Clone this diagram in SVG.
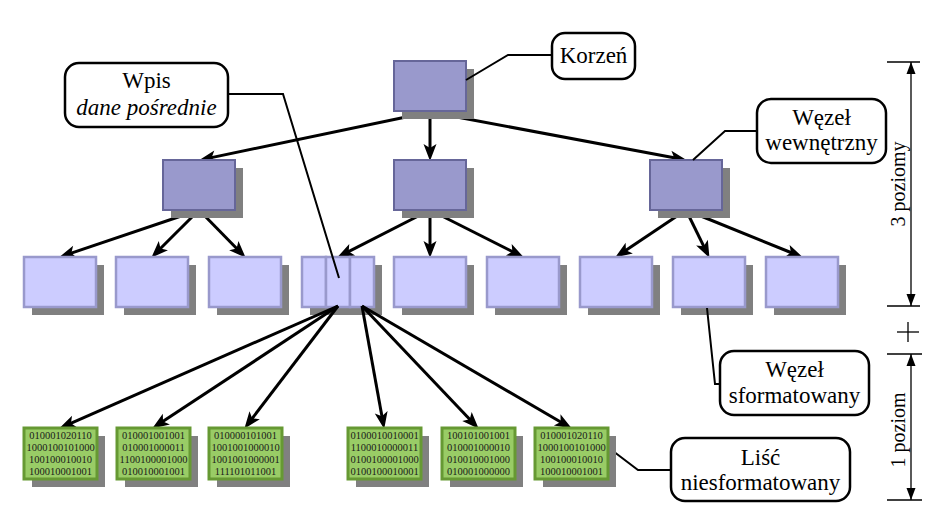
<svg xmlns="http://www.w3.org/2000/svg" width="940" height="517" viewBox="0 0 940 517" font-family="Liberation Serif, Times New Roman, serif">
<style>
.sh{fill:#808080}
.int{fill:#9999cc;stroke:#666699;stroke-width:2}
.lf{fill:#ccccff;stroke:#9999cc;stroke-width:2.5}
.gr{fill:#99cc66;stroke:#669933;stroke-width:3}
.bin{font-family:Liberation Serif, Times New Roman, serif;font-size:10.5px;fill:#1a1a1a;text-anchor:middle}
.co{fill:#fff;stroke:#000;stroke-width:2.5}
.lbl{font-family:Liberation Serif, Times New Roman, serif;font-size:23px;fill:#000;text-anchor:middle}
.arr{fill:none;stroke:#000;stroke-width:3;marker-end:url(#ah)}
.lead{fill:none;stroke:#000;stroke-width:2}
.dim{fill:none;stroke:#000;stroke-width:1.3}
.dl{font-family:Liberation Serif, Times New Roman, serif;font-size:20px;fill:#000;text-anchor:middle}
</style>
<defs>
<marker id="ah" markerUnits="userSpaceOnUse" viewBox="-10 -8 20 16" markerWidth="20" markerHeight="16" refX="0" refY="0" orient="auto">
<path d="M9,0 L-8,-6.5 L-4,0 L-8,6.5 Z" fill="#000"/>
</marker>
<marker id="dh" markerUnits="userSpaceOnUse" viewBox="-13 -5 14 10" markerWidth="14" markerHeight="10" refX="0" refY="0" orient="auto-start-reverse">
<path d="M0,0 L-12,-4.5 L-12,4.5 Z" fill="#000"/>
</marker>
</defs>

<g id="connectors">
<line class="arr" x1="430" y1="112" x2="207.8" y2="158.4"/>
<line class="arr" x1="430" y1="112" x2="430" y2="152"/>
<line class="arr" x1="430" y1="112" x2="678.1" y2="158.5"/>
<line class="arr" x1="199" y1="210" x2="67.6" y2="254.4"/>
<line class="arr" x1="199" y1="210" x2="157.7" y2="251.3"/>
<line class="arr" x1="199" y1="210" x2="239.4" y2="251.3"/>
<line class="arr" x1="430" y1="210" x2="345.1" y2="253.4"/>
<line class="arr" x1="430" y1="210" x2="430" y2="249"/>
<line class="arr" x1="430" y1="210" x2="515.9" y2="253.4"/>
<line class="arr" x1="686" y1="210" x2="622.6" y2="252.5"/>
<line class="arr" x1="686" y1="210" x2="705.5" y2="249.8"/>
<line class="arr" x1="686" y1="210" x2="794.6" y2="254"/>
</g>

<g id="root"><rect class="sh" x="402" y="69" width="72" height="50"/><rect class="int" x="394" y="61" width="72" height="50"/></g>
<g id="int1"><rect class="sh" x="171" y="168" width="72" height="50"/><rect class="int" x="163" y="160" width="72" height="50"/></g>
<g id="int2"><rect class="sh" x="402" y="168" width="72" height="50"/><rect class="int" x="394" y="160" width="72" height="50"/></g>
<g id="int3"><rect class="sh" x="658" y="168" width="72" height="50"/><rect class="int" x="650" y="160" width="72" height="50"/></g>

<g id="n1"><rect class="sh" x="32" y="265" width="72" height="50"/><rect class="lf" x="24" y="257" width="72" height="50"/></g>
<g id="n2"><rect class="sh" x="124" y="265" width="72" height="50"/><rect class="lf" x="116" y="257" width="72" height="50"/></g>
<g id="n3"><rect class="sh" x="217" y="265" width="72" height="50"/><rect class="lf" x="209" y="257" width="72" height="50"/></g>
<g id="n4"><rect class="sh" x="310" y="265" width="72" height="50"/><rect class="lf" x="302" y="257" width="24" height="50"/><rect class="lf" x="326" y="257" width="24" height="50"/><rect class="lf" x="350" y="257" width="24" height="50"/></g>
<g id="n5"><rect class="sh" x="402" y="265" width="72" height="50"/><rect class="lf" x="394" y="257" width="72" height="50"/></g>
<g id="n6"><rect class="sh" x="495" y="265" width="72" height="50"/><rect class="lf" x="487" y="257" width="72" height="50"/></g>
<g id="n7"><rect class="sh" x="588" y="265" width="72" height="50"/><rect class="lf" x="580" y="257" width="72" height="50"/></g>
<g id="n8"><rect class="sh" x="681" y="265" width="72" height="50"/><rect class="lf" x="673" y="257" width="72" height="50"/></g>
<g id="n9"><rect class="sh" x="774" y="265" width="72" height="50"/><rect class="lf" x="766" y="257" width="72" height="50"/></g>

<g id="connectors2">
<line class="arr" x1="338" y1="306" x2="67.3" y2="424.8"/>
<line class="arr" x1="338" y1="306" x2="159.7" y2="423.6"/>
<line class="arr" x1="338" y1="306" x2="249.8" y2="421.6"/>
<line class="arr" x1="362" y1="306" x2="382.6" y2="420.1"/>
<line class="arr" x1="362" y1="306" x2="472.5" y2="422.2"/>
<line class="arr" x1="362" y1="306" x2="564.1" y2="424"/>
<polyline class="lead" points="228,94 283,94 339,278"/>
<polyline class="lead" points="552,55 508,55 466,80"/>
<polyline class="lead" points="757,131 725,131 693,160"/>
<polyline class="lead" points="707,308 715,384 720,384"/>
<polyline class="lead" points="605,445 638,470 671,470"/>
</g>

<g id="leaf1"><rect class="sh" x="32" y="436" width="73" height="51"/><rect class="gr" x="24" y="428" width="73" height="51"/>
<text class="bin"><tspan x="60.5" y="439">010001020110</tspan><tspan x="60.5" y="451">1000100101000</tspan><tspan x="60.5" y="463">100100010010</tspan><tspan x="60.5" y="475">100010001001</tspan></text></g>
<g id="leaf2"><rect class="sh" x="125" y="436" width="73" height="51"/><rect class="gr" x="117" y="428" width="73" height="51"/>
<text class="bin"><tspan x="153.5" y="439">010001001001</tspan><tspan x="153.5" y="451">010001000011</tspan><tspan x="153.5" y="463">1100100001000</tspan><tspan x="153.5" y="475">010010001001</tspan></text></g>
<g id="leaf3"><rect class="sh" x="217" y="436" width="73" height="51"/><rect class="gr" x="209" y="428" width="73" height="51"/>
<text class="bin"><tspan x="245.5" y="439">010000101001</tspan><tspan x="245.5" y="451">1001001000010</tspan><tspan x="245.5" y="463">1001001000001</tspan><tspan x="245.5" y="475">111101011001</tspan></text></g>
<g id="leaf4"><rect class="sh" x="356" y="436" width="73" height="51"/><rect class="gr" x="348" y="428" width="73" height="51"/>
<text class="bin"><tspan x="384.5" y="439">0100010010001</tspan><tspan x="384.5" y="451">1100010000011</tspan><tspan x="384.5" y="463">0100100001000</tspan><tspan x="384.5" y="475">0100100010001</tspan></text></g>
<g id="leaf5"><rect class="sh" x="450" y="436" width="73" height="51"/><rect class="gr" x="442" y="428" width="73" height="51"/>
<text class="bin"><tspan x="478.5" y="439">100101001001</tspan><tspan x="478.5" y="451">010001000010</tspan><tspan x="478.5" y="463">010010001000</tspan><tspan x="478.5" y="475">010001000000</tspan></text></g>
<g id="leaf6"><rect class="sh" x="543" y="436" width="73" height="51"/><rect class="gr" x="535" y="428" width="73" height="51"/>
<text class="bin"><tspan x="571.5" y="439">010001020110</tspan><tspan x="571.5" y="451">1000100101000</tspan><tspan x="571.5" y="463">100100010010</tspan><tspan x="571.5" y="475">100010001001</tspan></text></g>

<g id="callout-korzen"><rect class="co" x="552" y="33" width="83" height="46" rx="13"/><text class="lbl" x="593.5" y="63" font-family="Liberation Serif, serif">Korzeń</text></g>
<g id="callout-wpis"><rect class="co" x="65" y="63" width="163" height="64" rx="14"/><text class="lbl" x="146.5" y="88" font-family="Liberation Serif, serif">Wpis</text><text class="lbl" x="146.5" y="115" font-style="italic" font-family="Liberation Serif, serif">dane pośrednie</text></g>
<g id="callout-wewn"><rect class="co" x="757" y="99" width="129" height="64" rx="14"/><text class="lbl" x="821.5" y="125" font-family="Liberation Serif, serif">Węzeł</text><text class="lbl" x="821.5" y="150" font-family="Liberation Serif, serif">wewnętrzny</text></g>
<g id="callout-sform"><rect class="co" x="720" y="351" width="149" height="64" rx="14"/><text class="lbl" x="794.5" y="377" font-family="Liberation Serif, serif">Węzeł</text><text class="lbl" x="794.5" y="403" font-family="Liberation Serif, serif">sformatowany</text></g>
<g id="callout-lisc"><rect class="co" x="671" y="438" width="179" height="63" rx="14"/><text class="lbl" x="760.5" y="465" font-family="Liberation Serif, serif">Liść</text><text class="lbl" x="760.5" y="490" font-family="Liberation Serif, serif">niesformatowany</text></g>

<g id="dimensions">
<line class="dim" x1="887" y1="62" x2="920" y2="62"/>
<line class="dim" x1="887" y1="306" x2="920" y2="306"/>
<line class="dim" x1="887" y1="354" x2="922" y2="354"/>
<line class="dim" x1="887" y1="500" x2="922" y2="500"/>
<line class="dim" x1="911" y1="62" x2="911" y2="306" marker-start="url(#dh)" marker-end="url(#dh)"/>
<line class="dim" x1="911" y1="354" x2="911" y2="500" marker-start="url(#dh)" marker-end="url(#dh)"/>
<line class="dim" x1="897" y1="332" x2="919" y2="332"/>
<line class="dim" x1="908" y1="322" x2="908" y2="342"/>
<text class="dl" transform="translate(905,184) rotate(-90)">3 poziomy</text>
<text class="dl" transform="translate(905,430) rotate(-90)">1 poziom</text>
</g>
</svg>
